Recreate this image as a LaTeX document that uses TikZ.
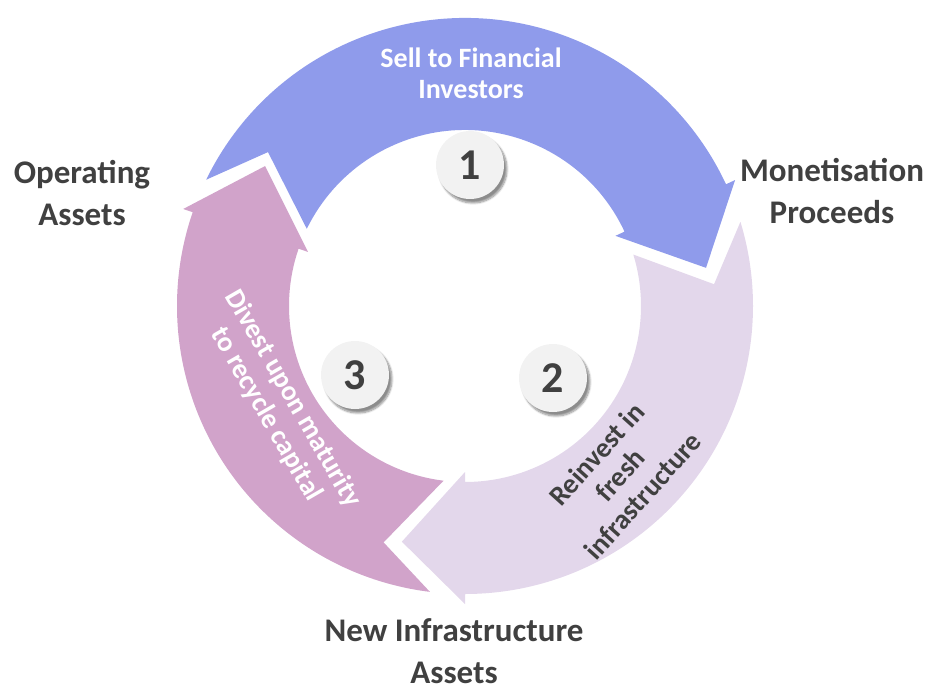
\documentclass[tikz,border=0pt]{standalone}
\usepackage{fontspec}
\setmainfont{Carlito}
\usetikzlibrary{shadows.blur}
\definecolor{sellblue}{HTML}{8F9BEB}
\definecolor{reinvestlilac}{HTML}{E3D7EB}
\definecolor{divestpink}{HTML}{D1A3CA}
\definecolor{labelgray}{HTML}{404040}
\definecolor{badgegray}{HTML}{F2F2F2}
\tikzset{
  badge/.style       = { circle, fill=badgegray, minimum size=68pt, inner sep=0pt,
                         text=labelgray, font=\fontsize{44}{44}\selectfont\bfseries,
                         blur shadow={shadow xshift=3pt, shadow yshift=-4pt, shadow blur steps=8, shadow opacity=45} },
  outer_label/.style = { align=center, text=labelgray, font=\fontsize{33}{42}\selectfont\bfseries },
  arrow_text/.style  = { align=center, font=\fontsize{28}{31}\selectfont\bfseries }
}

\begin{document}
\begin{tikzpicture}[x=1pt,y=1pt]
  \useasboundingbox (-465,-382) rectangle (460,306);
  % Draw the three arrows
  \fill[sellblue] (154:288) arc[start angle=154, end angle=25, radius=288]
    -- (25:298) -- (9:244) -- (25:166) -- (25:176)
    arc[start angle=25, end angle=154, radius=176] -- (142:250) -- cycle;
  \fill[reinvestlilac] (17:288) arc[start angle=17, end angle=-90, radius=288]
    -- (-90:298) -- (-105:244) -- (-90:166) -- (-90:176)
    arc[start angle=-90, end angle=17, radius=176] -- (5:250) -- cycle;
  \fill[divestpink] (-97:288) arc[start angle=-97, end angle=-199, radius=288]
    -- (-199:298) -- (-215:244) -- (-199:166) -- (-199:176)
    arc[start angle=-199, end angle=-97, radius=176] -- (-109:250) -- cycle;
  % Draw texts on the arrows
  \node[arrow_text, text=white] (sell) at (6,233) {Sell to Financial\\Investors};
  \node[arrow_text, text=labelgray, rotate=48] (reinvest) at (-47.5:229) {Reinvest in\\fresh\\infrastructure};
  \node[arrow_text, text=white, rotate=-60] (divest) at (208.5:211) {Divest upon maturity\\to recycle capital};
  % Draw step numbers
  \node[badge] (one)   at (5,141)    {1};
  \node[badge] (two)   at (88,-72)   {2};
  \node[badge] (three) at (-110,-69) {3};
  % Draw labels
  \node[outer_label] (operating) at (-383,113)  {Operating\\Assets};
  \node[outer_label] (proceeds)  at (367,115)   {Monetisation\\Proceeds};
  \node[outer_label] (newassets) at (-11,-345)  {New Infrastructure\\Assets};
\end{tikzpicture}
\end{document}
